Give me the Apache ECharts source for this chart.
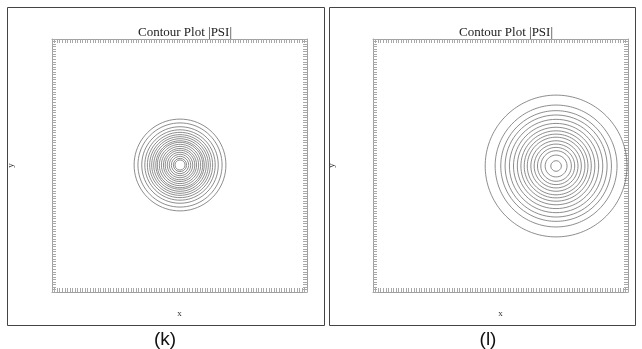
<!DOCTYPE html>
<html><head><meta charset="utf-8">
<script src="https://cdn.jsdelivr.net/npm/echarts@6/dist/echarts.min.js"></script>
<style>html,body{margin:0;padding:0;background:#fff;}#c{width:642px;height:349px;}</style>
</head><body><div id="c"></div>
<script>
// Data (axis units 0..100)
const titles = ['Contour Plot |PSI|', 'Contour Plot |PSI|'];
const panelLabels = ['(k)', '(l)'];
const centerK = [50.2, 50.2];
const radiiK = [18.0, 16.5, 15.0, 13.8, 12.8, 11.9, 11.1, 10.3, 9.5, 8.9, 8.1, 7.3, 6.5, 5.8, 5.0, 4.2, 3.4, 2.6, 2.0];
const centerL = [71.8, 49.8];
const radiiL = [27.8, 23.9, 21.7, 20.0, 18.3, 16.7, 15.2, 13.8, 12.5, 11.3, 9.9, 8.6, 7.3, 6.0, 4.3, 2.1];

const ASPECT = 255 / 253;
function ring(c, r) {
  const pts = [];
  const n = 160;
  for (let i = 0; i <= n; i++) {
    const a = 2 * Math.PI * i / n;
    pts.push([c[0] + r * Math.cos(a), c[1] + r * Math.sin(a) * ASPECT]);
  }
  return pts;
}

const grids = [
  {left: 52, top: 39, width: 255, height: 253},
  {left: 373, top: 39, width: 255, height: 253}
];
const tickCol = '#a8a8a8';
function axisBase(extra) {
  return Object.assign({
    type: 'value', min: 0, max: 100, interval: 10,
    axisLine: {show: true, onZero: false, lineStyle: {color: '#a0a0a0', width: 1}},
    axisTick: {show: true, inside: true, length: 4, lineStyle: {color: tickCol}},
    minorTick: {show: true, splitNumber: 10, length: 4, lineStyle: {color: tickCol}},
    axisLabel: {show: false},
    splitLine: {show: false}
  }, extra);
}
const xAxes = [], yAxes = [];
[0, 1].forEach(g => {
  xAxes.push(axisBase({gridIndex: g, position: 'bottom', name: 'x', nameLocation: 'middle', nameGap: 17,
    nameTextStyle: {fontFamily: 'Liberation Serif', fontSize: 9, color: '#333'}}));
  xAxes.push(axisBase({gridIndex: g, position: 'top'}));
  yAxes.push(axisBase({gridIndex: g, position: 'left', name: 'y', nameLocation: 'middle', nameGap: 37,
    nameRotate: 90, nameTextStyle: {fontFamily: 'Liberation Serif', fontSize: 9, color: '#333'}}));
  yAxes.push(axisBase({gridIndex: g, position: 'right'}));
});

const series = [];
function addRings(c, radii, g) {
  radii.forEach(r => {
    series.push({
      type: 'line', xAxisIndex: g * 2, yAxisIndex: g * 2, data: ring(c, r),
      showSymbol: false, symbol: 'none', silent: true, smooth: false,
      lineStyle: {color: '#707070', width: 0.8}
    });
  });
}
addRings(centerK, radiiK, 0);
addRings(centerL, radiiL, 1);

const chart = echarts.init(document.getElementById('c'), null, {renderer: 'canvas'});
chart.setOption({
  animation: false,
  backgroundColor: '#fff',
  title: [
    {text: titles[0], left: 180, top: 21, textAlign: 'center',
     textStyle: {fontFamily: 'Liberation Serif', fontSize: 13, fontWeight: 'normal', color: '#222'}},
    {text: titles[1], left: 501, top: 21, textAlign: 'center',
     textStyle: {fontFamily: 'Liberation Serif', fontSize: 13, fontWeight: 'normal', color: '#222'}},
    {text: panelLabels[0], left: 160, top: 325, textAlign: 'center',
     textStyle: {fontFamily: 'Liberation Sans', fontSize: 19, fontWeight: 'normal', color: '#111'}},
    {text: panelLabels[1], left: 483, top: 325, textAlign: 'center',
     textStyle: {fontFamily: 'Liberation Sans', fontSize: 19, fontWeight: 'normal', color: '#111'}}
  ],
  grid: grids,
  xAxis: xAxes,
  yAxis: yAxes,
  graphic: [
    {type: 'rect', shape: {x: 7.5, y: 7.5, width: 317, height: 318}, style: {fill: 'none', stroke: '#444', lineWidth: 1}, silent: true},
    {type: 'rect', shape: {x: 329.5, y: 7.5, width: 306, height: 318}, style: {fill: 'none', stroke: '#444', lineWidth: 1}, silent: true}
  ],
  series: series
});
</script></body></html>
